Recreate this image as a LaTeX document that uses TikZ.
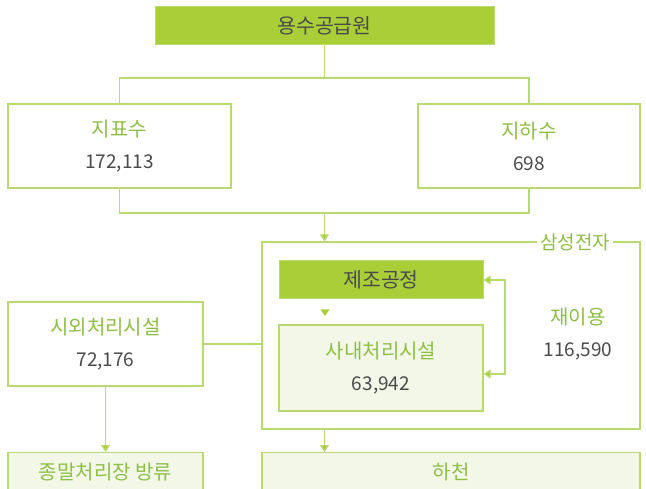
\documentclass[tikz,border=0pt]{standalone}
\usepackage{fontspec}
\setmainfont{Noto Sans CJK KR}
\usetikzlibrary{arrows.meta}
\definecolor{lineg}{HTML}{B9DA6E}
\definecolor{fillg}{HTML}{A9CE38}
\definecolor{paleg}{HTML}{F3F7E8}
\definecolor{textg}{HTML}{8DBF45}
\definecolor{textd}{HTML}{4A4A4A}
\tikzset{
  conn/.style={draw=lineg, line width=1.2pt},
  arr/.style={conn, -{Triangle[length=7pt,width=9pt,fill=fillg]}},
  darkbox/.style={fill=fillg, draw=lineg, line width=1pt, text=textd, font=\fontsize{20.5}{24}\selectfont, inner sep=0pt},
  whitebox/.style={fill=white, draw=lineg, line width=1.2pt, align=center, inner sep=0pt, font=\fontsize{20}{32}\selectfont},
  palebox/.style={fill=paleg, draw=lineg, line width=1.2pt, align=center, inner sep=0pt, font=\fontsize{20}{32}\selectfont},
}
\newcommand{\lab}[1]{\textcolor{textg}{#1}}
\newcommand{\num}[1]{{\fontsize{19}{32}\selectfont\textcolor{textd}{#1}}}
\begin{document}
\begin{tikzpicture}[x=1pt,y=-1pt]
\useasboundingbox (0,0) rectangle (646,489);
\clip (0,0) rectangle (646,489);
% nodes
\node[darkbox, minimum width=339pt, minimum height=38pt] (src) at (324.5,26) {용수공급원};
\node[whitebox, minimum width=223pt, minimum height=84pt] (surf) at (119.5,146) {\lab{지표수}\\\num{172,113}};
\node[whitebox, minimum width=222pt, minimum height=84pt] (grnd) at (529,146) {\lab{지하수}\\\num{698}};
\node[draw=lineg, line width=1.2pt, minimum width=378pt, minimum height=187pt, inner sep=0pt] (sam) at (451,335.5) {};
\node[fill=white, text=textg, font=\fontsize{19}{22}\selectfont, inner sep=3pt] (samlab) at (575,242) {삼성전자};
\node[darkbox, minimum width=204pt, minimum height=38pt] (jejo) at (381,280) {제조공정};
\node[palebox, minimum width=204pt, minimum height=86pt] (sanae) at (381,368) {\lab{사내처리시설}\\\num{63,942}};
\node[align=center, font=\fontsize{20}{32}\selectfont, inner sep=0pt] (reuse) at (578,334) {\lab{재이용}\\\num{116,590}};
\node[whitebox, minimum width=195pt, minimum height=84pt] (siwoe) at (105.5,344) {\lab{시외처리시설}\\\num{72,176}};
\node[palebox, anchor=north, minimum width=195pt, minimum height=44pt] (jongmal) at (105.5,452) {\raisebox{7pt}{\lab{종말처리장 방류}}};
\node[palebox, anchor=north, minimum width=378pt, minimum height=44pt] (river) at (451,452) {\raisebox{7pt}{\lab{하천}}};
% coordinates
\coordinate (t1) at (324.5,78);
\coordinate (b1) at (324.5,213);
\coordinate (r1) at (505,280);
\coordinate (r2) at (505,374);
% connectors
\draw[conn] (src.south) -- (t1);
\draw[conn] (surf.north) |- (t1) -| (grnd.north);
\draw[conn] (surf.south) |- (b1) -| (grnd.south);
\draw[arr] (b1) -- (b1 |- sam.north);
\draw[conn] (siwoe.east) -- (sam.west |- siwoe.east);
\draw[arr] (siwoe.south) -- (jongmal.north);
\draw[arr] (sam.south -| b1) -- (river.north -| b1);
\draw[conn, {Triangle[length=7pt,width=9pt,fill=fillg]}-{Triangle[length=7pt,width=9pt,fill=fillg]}] (jejo.east |- r1) -- (r1) -- (r2) -- (sanae.east |- r2);
\fill[fillg] (320.5,309.5) -- (329.5,309.5) -- (325,316) -- cycle;
\end{tikzpicture}
\end{document}
